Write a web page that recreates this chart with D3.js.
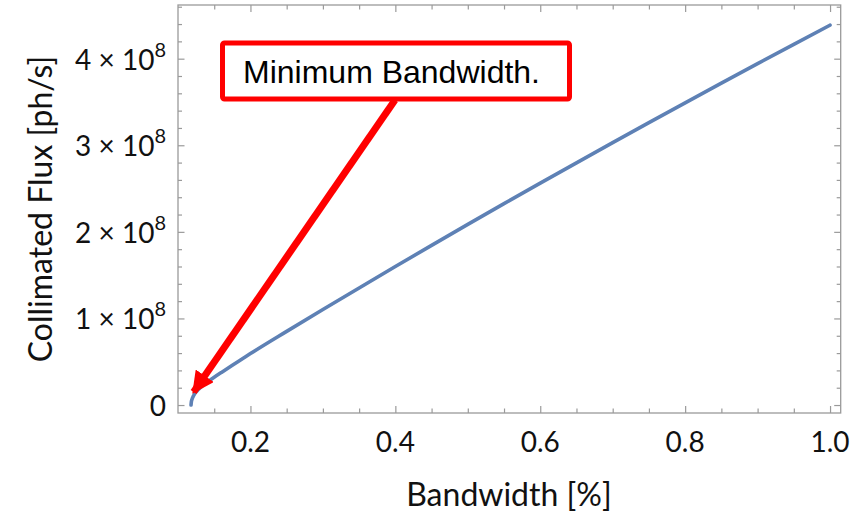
<!DOCTYPE html>
<html>
<head>
<meta charset="utf-8">
<script src="https://cdn.jsdelivr.net/npm/d3@7"></script>
<style>
  html, body { margin: 0; padding: 0; background: #fff; }
  svg { display: block; }
</style>
</head>
<body>
<svg id="chart" width="868" height="515"></svg>
<script>
// Collimated flux versus relative bandwidth
const bandwidth = [0.118, 0.1185, 0.1195, 0.121, 0.1235, 0.127, 0.132, 0.139, 0.148, 0.16,
  0.175, 0.19, 0.2, 0.25, 0.3, 0.35, 0.4, 0.45, 0.5, 0.55, 0.6, 0.65, 0.7, 0.75, 0.8, 0.85,
  0.9, 0.95, 1.0];
const flux = [0, 0.04e8, 0.07e8, 0.10e8, 0.135e8, 0.17e8, 0.21e8, 0.258e8, 0.31e8, 0.377e8,
  0.459e8, 0.54e8, 0.594e8, 0.851e8, 1.103e8, 1.3525e8, 1.5995e8, 1.844e8, 2.086e8, 2.3255e8,
  2.5625e8, 2.7975e8, 3.0305e8, 3.2615e8, 3.4905e8, 3.7175e8, 3.9425e8, 4.1655e8, 4.3875e8];

const xMajor = [0.2, 0.4, 0.6, 0.8, 1.0];
const xMinor = [0.15, 0.25, 0.3, 0.35, 0.45, 0.5, 0.55, 0.65, 0.7, 0.75, 0.85, 0.9, 0.95];
const yMajor = [0, 1e8, 2e8, 3e8, 4e8];
const yMajorLabels = ["0", "1", "2", "3", "4"];
const yMinor = [0.2e8, 0.4e8, 0.6e8, 0.8e8, 1.2e8, 1.4e8, 1.6e8, 1.8e8, 2.2e8, 2.4e8, 2.6e8,
  2.8e8, 3.2e8, 3.4e8, 3.6e8, 3.8e8, 4.2e8, 4.4e8, 4.6e8];

const annotationText = "Minimum Bandwidth.";
const xTitle = "Bandwidth [%]";
const yTitle = "Collimated Flux [ph/s]";

const svg = d3.select("#chart");
const frame = { left: 178, right: 840.7, top: 5, bottom: 413 };

const x = d3.scaleLinear().domain([0.1, 1.0147]).range([frame.left, frame.right]);
const y = d3.scaleLinear().domain([-0.092e8, 4.62e8]).range([frame.bottom, frame.top]);

const frameColor = "#9a9a9a";
const labelFont = "Lato, 'Open Sans', sans-serif";

// Frame ticks on all four sides, pointing inward
function tickLayer(axisFn, scale, values, size, transform) {
  const g = svg.append("g")
    .attr("transform", transform)
    .call(axisFn(scale).tickValues(values).tickSize(size).tickFormat(""));
  g.select(".domain").remove();
  g.selectAll("line").attr("stroke", frameColor).attr("stroke-width", 1.2);
  return g;
}
tickLayer(d3.axisBottom, x, xMajor, -7, `translate(0,${frame.bottom})`);
tickLayer(d3.axisBottom, x, xMinor, -4.5, `translate(0,${frame.bottom})`);
tickLayer(d3.axisTop, x, xMajor, -7, `translate(0,${frame.top})`);
tickLayer(d3.axisTop, x, xMinor, -4.5, `translate(0,${frame.top})`);
tickLayer(d3.axisLeft, y, yMajor, -6.5, `translate(${frame.left},0)`);
tickLayer(d3.axisLeft, y, yMinor, -4, `translate(${frame.left},0)`);
tickLayer(d3.axisRight, y, yMajor, -6.5, `translate(${frame.right},0)`);
tickLayer(d3.axisRight, y, yMinor, -4, `translate(${frame.right},0)`);

svg.append("rect")
  .attr("x", frame.left).attr("y", frame.top)
  .attr("width", frame.right - frame.left).attr("height", frame.bottom - frame.top)
  .attr("fill", "none").attr("stroke", frameColor).attr("stroke-width", 1.3);

// X tick labels
svg.append("g").selectAll("text").data(xMajor).join("text")
  .attr("x", d => x(d)).attr("y", 451.5)
  .attr("text-anchor", "middle")
  .attr("font-family", labelFont).attr("font-size", 28).attr("fill", "#111")
  .text(d => d.toFixed(1));

// Y tick labels: "n × 10^8"
const yl = svg.append("g").selectAll("text").data(yMajor).join("text")
  .attr("x", 166).attr("y", d => y(d) + 11)
  .attr("text-anchor", "end")
  .attr("font-family", labelFont).attr("font-size", 28).attr("fill", "#111");
yl.each(function (d, i) {
  const t = d3.select(this);
  if (d === 0) { t.text(yMajorLabels[i]); return; }
  t.append("tspan").text(yMajorLabels[i] + " \u00d7 10");
  t.append("tspan").attr("dy", -13).attr("font-size", 20).text("8");
});

// Axis titles
svg.append("text")
  .attr("x", 509).attr("y", 506)
  .attr("text-anchor", "middle")
  .attr("font-family", labelFont).attr("font-size", 32).attr("fill", "#111")
  .text(xTitle);
svg.append("text")
  .attr("transform", "translate(52,209) rotate(-90)")
  .attr("text-anchor", "middle")
  .attr("font-family", labelFont).attr("font-size", 32).attr("fill", "#111")
  .text(yTitle);

// Flux curve
const pts = bandwidth.map((b, i) => [b, flux[i]]);
svg.append("path")
  .datum(pts)
  .attr("fill", "none")
  .attr("stroke", "#5e81b5")
  .attr("stroke-width", 3.6)
  .attr("stroke-linecap", "round")
  .attr("d", d3.line().x(d => x(d[0])).y(d => y(d[1])).curve(d3.curveMonotoneX));

// Annotation callout with arrow to the curve's start
svg.append("defs").append("marker")
  .attr("id", "head")
  .attr("viewBox", "0 0 10 10")
  .attr("refX", 9).attr("refY", 5)
  .attr("markerUnits", "userSpaceOnUse")
  .attr("markerWidth", 22).attr("markerHeight", 22)
  .attr("orient", "auto")
  .append("path").attr("d", "M0,0 L10,5 L0,10 Z").attr("fill", "#ff0000");

const tipX = x(bandwidth[0]) + 2.5, tipY = y(flux[0]) - 13;
svg.append("line")
  .attr("x1", 395).attr("y1", 100)
  .attr("x2", tipX).attr("y2", tipY)
  .attr("stroke", "#ff0000").attr("stroke-width", 7)
  .attr("marker-end", "url(#head)");

svg.append("rect")
  .attr("x", 222.5).attr("y", 43)
  .attr("width", 347).attr("height", 56)
  .attr("rx", 2)
  .attr("fill", "#fff").attr("stroke", "#ff0000").attr("stroke-width", 5);
svg.append("text")
  .attr("x", 243).attr("y", 82.5)
  .attr("font-family", "'Liberation Sans', Arial, sans-serif")
  .attr("font-size", 32).attr("fill", "#000")
  .text(annotationText);
</script>
</body>
</html>
